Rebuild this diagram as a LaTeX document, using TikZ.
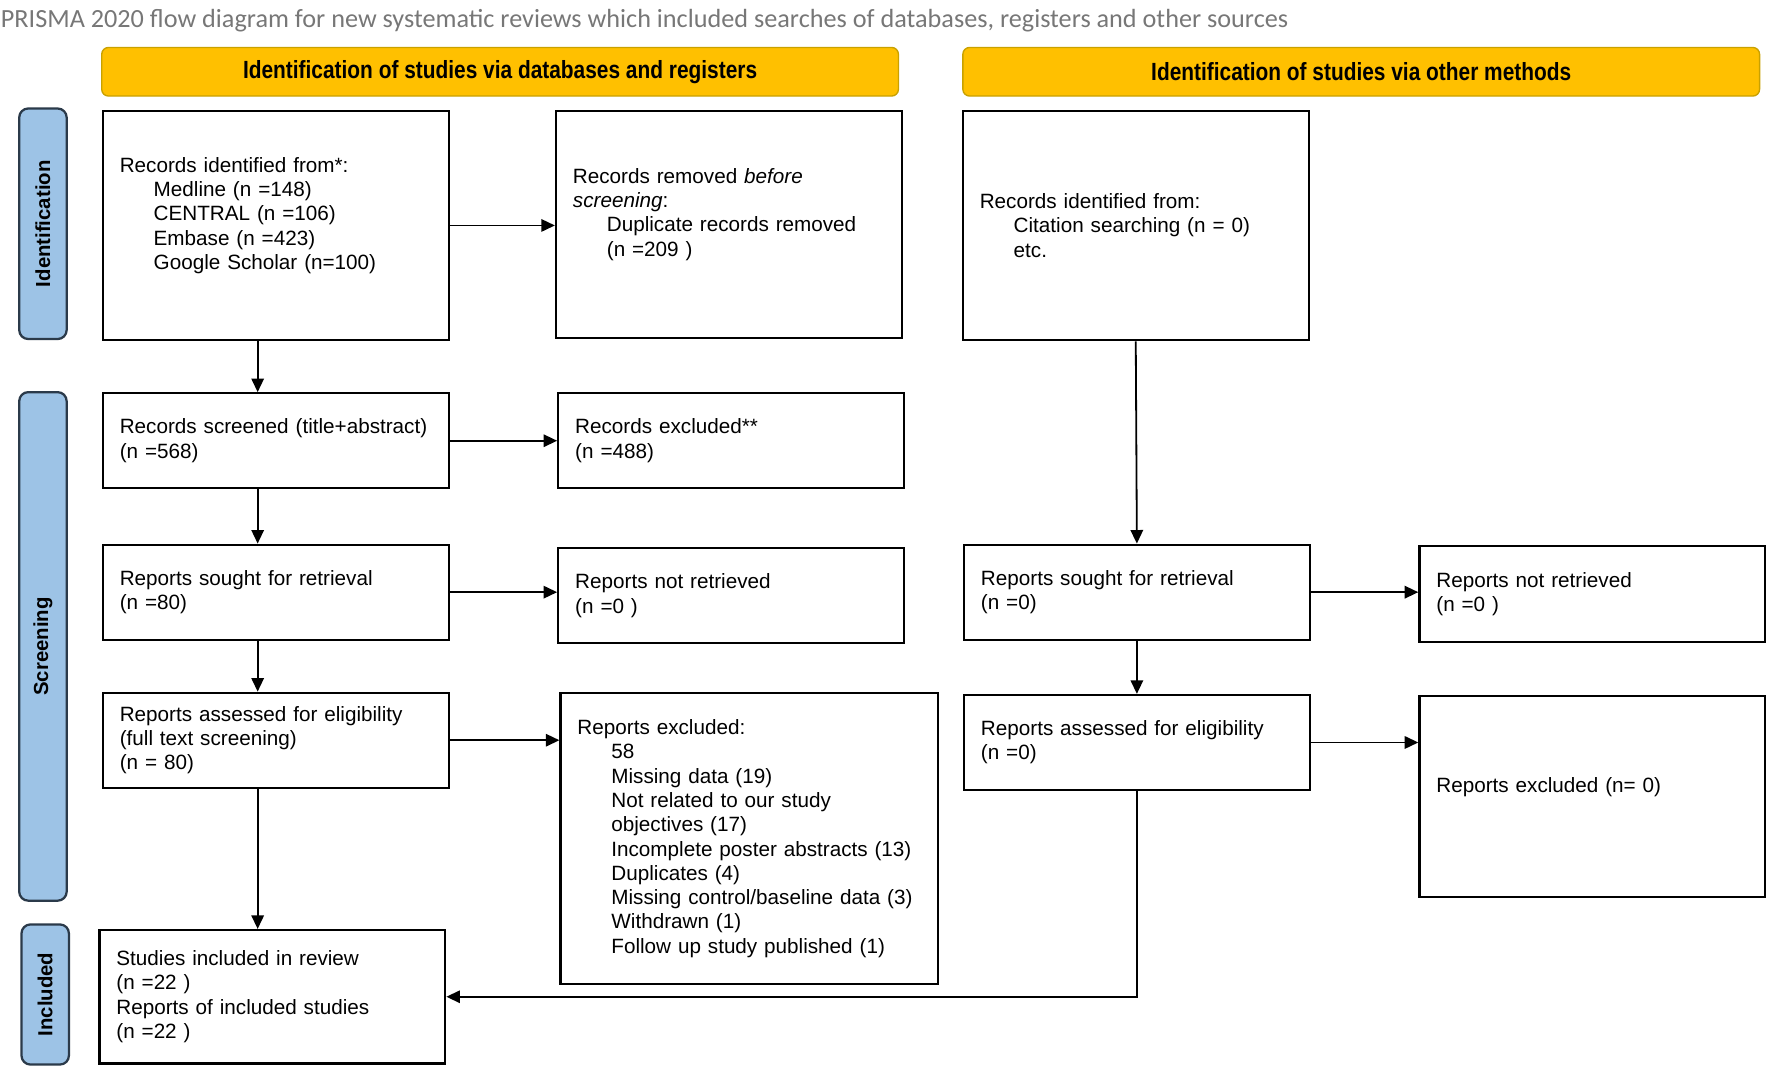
\documentclass[tikz,border=0pt]{standalone}
\usepackage{fontspec}
\setmainfont{Liberation Sans}
\newfontfamily\titlefont{Carlito}
\newfontfamily\headfont{Liberation Sans}[FakeStretch=0.84]
\usepackage{xcolor}
\usetikzlibrary{arrows.meta}

\definecolor{prismagold}{HTML}{FFC000}
\definecolor{goldline}{HTML}{C9A100}
\definecolor{phaseblue}{HTML}{9DC3E6}
\definecolor{phaseline}{HTML}{2B3A4A}
\definecolor{titlegray}{HTML}{777777}

\tikzset{
  recbox/.style={draw, line width=1pt, anchor=north west, align=left,
    inner xsep=7.5pt, inner ysep=0pt, text width=138pt,
    font=\fontsize{9.15}{10.75}\selectfont},
  headbox/.style={draw=goldline, fill=prismagold, rounded corners=3pt,
    line width=0.6pt, minimum width=352.5pt, minimum height=21.5pt,
    font=\headfont\bfseries\fontsize{11}{13}\selectfont},
  phasebox/.style={draw=phaseline, fill=phaseblue, rounded corners=4pt,
    line width=1pt, rotate=90, minimum height=21pt,
    font=\bfseries\fontsize{9}{11}\selectfont},
}
\newcommand{\ind}{\hspace*{15pt}}

\begin{document}
\begin{tikzpicture}[x=0.5pt, y=-0.5pt, line width=0.8pt,
    >={Triangle[length=6pt,width=5.5pt]}]
  \useasboundingbox (0,0) rectangle (1568,946);

  \node[anchor=base west, inner sep=0pt, text=titlegray,
    font=\titlefont\fontsize{11.6}{13}\selectfont] (title) at (0,24)
    {PRISMA 2020 flow diagram for new systematic reviews which included searches of databases, registers and other sources};

  % headers
  \node[headbox] (hdb) at (442.5,63.5) {Identification of studies via databases and registers};
  \node[headbox] (hoth) at (1204.5,63.5) {Identification of studies via other methods};

  % phases
  \node[phasebox, minimum width=102pt] (pid) at (38,198) {Identification};
  \node[phasebox, minimum width=225pt] (pscr) at (38,572) {Screening};
  \node[phasebox, minimum width=62pt] (pinc) at (40,880) {Included};

  % databases and registers
  \node[recbox, minimum height=101.5pt] (id) at (90,97)
    {Records identified from*:\\ \ind Medline (n =148)\\ \ind CENTRAL (n =106)\\
     \ind Embase (n =423)\\ \ind Google Scholar (n=100)\\ ~};
  \node[recbox, minimum height=100.5pt] (rm) at (491,97)
    {Records removed \textit{before}\\ \textit{screening}:\\
     \ind Duplicate records removed\\ \ind (n =209 )\\ ~};
  \node[recbox, minimum height=42pt] (scr) at (90,347)
    {Records screened (title+abstract)\\ (n =568)};
  \node[recbox, minimum height=42pt] (ex) at (493,347)
    {Records excluded**\\ (n =488)};
  \node[recbox, minimum height=42pt] (sgt) at (90,481)
    {Reports sought for retrieval\\ (n =80)};
  \node[recbox, minimum height=42pt] (nr) at (493,484)
    {Reports not retrieved\\ (n =0 )};
  \node[recbox, minimum height=42pt] (el) at (90,612)
    {Reports assessed for eligibility\\ (full text screening)\\ (n = 80)};
  \node[recbox, minimum height=129pt, text width=152pt] (rx) at (495,612)
    {Reports excluded:\\ \ind 58\\ \ind Missing data (19)\\ \ind Not related to our study\\
     \ind objectives (17)\\ \ind Incomplete poster abstracts (13)\\ \ind Duplicates (4)\\
     \ind Missing control/baseline data (3)\\ \ind Withdrawn (1)\\ \ind Follow up study published (1)};
  \node[recbox, minimum height=59pt] (inc) at (87,822)
    {Studies included in review\\ (n =22 )\\ Reports of included studies\\ (n =22 )};

  % other methods
  \node[recbox, minimum height=101.5pt] (oid) at (851,97)
    {Records identified from:\\ \ind Citation searching (n = 0)\\ \ind etc.};
  \node[recbox, minimum height=42pt] (osgt) at (852,481)
    {Reports sought for retrieval\\ (n =0)};
  \node[recbox, minimum height=42.5pt] (onr) at (1255,482)
    {Reports not retrieved\\ (n =0 )};
  \node[recbox, minimum height=42pt] (oel) at (852,614)
    {Reports assessed for eligibility\\ (n =0)};
  \node[recbox, minimum height=89pt] (orx) at (1255,615)
    {Reports excluded (n= 0)\\ ~};

  % arrows
  \draw[->] (id.east) -- (rm.west |- id.east);
  \draw[->] ([xshift=-8pt]id.south) -- ([xshift=-8pt]scr.north);
  \draw[->] (scr.east) -- (ex.west |- scr.east);
  \draw[->] ([xshift=-8pt]scr.south) -- ([xshift=-8pt]sgt.north);
  \draw[->] (sgt.east) -- (nr.west |- sgt.east);
  \draw[->] ([xshift=-8pt]sgt.south) -- ([xshift=-8pt]el.north);
  \draw[->] (el.east) -- (rx.west |- el.east);
  \draw[->] ([xshift=-8pt]el.south) -- ([xshift=-8pt]el.south |- inc.north);
  \draw[->] (oid.south) -- (osgt.north);
  \draw[->] (osgt.east) -- (onr.west |- osgt.east);
  \draw[->] (osgt.south) -- (oel.north);
  \draw[->] (oel.east) -- (orx.west |- oel.east);
  \draw[->] (oel.south) |- (inc.east);
\end{tikzpicture}
\end{document}
